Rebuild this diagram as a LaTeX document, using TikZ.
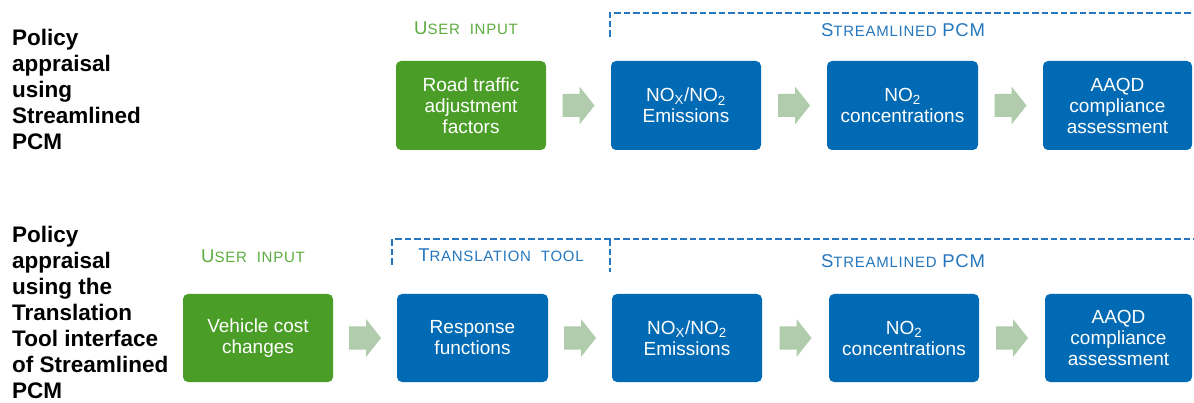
\documentclass[tikz,border=0pt]{standalone}
\usepackage{fontspec}
\setmainfont{Liberation Sans}
\usetikzlibrary{calc}
\definecolor{boxgreen}{RGB}{74,157,39}
\definecolor{boxblue}{RGB}{0,106,180}
\definecolor{arrowgreen}{RGB}{176,204,172}
\definecolor{labgreen}{RGB}{92,172,62}
\definecolor{labblue}{RGB}{36,118,190}
\newcommand{\sccap}[1]{{\fontsize{18.5}{21}\selectfont\addfontfeatures{LetterSpace=4}#1}}
\newcommand{\scsm}[1]{{\fontsize{15}{21}\selectfont\addfontfeatures{LetterSpace=5}#1}}
\newcommand{\blockarr}[3]{%
  \coordinate (#3) at ($(#1.east)!0.5!(#2.west)$);
  \fill[arrowgreen] (#3) ++(-16,-11.5) -- ++(17,0) -- ++(0,-7.5) -- ++(15,19)
    -- ++(-15,19) -- ++(0,-7.5) -- ++(-17,0) -- cycle;}
\tikzset{
  stepbox/.style={rounded corners=5pt, inner sep=0pt, text=white, align=center,
    font=\fontsize{19}{21}\selectfont},
  greenbox/.style={stepbox, fill=boxgreen},
  bluebox/.style={stepbox, fill=boxblue},
  titletext/.style={anchor=north west, inner sep=0pt, align=left,
    font=\fontsize{22.5}{26}\selectfont\bfseries},
  greenlab/.style={inner sep=0pt, anchor=base, text=labgreen},
  bluelab/.style={inner sep=0pt, anchor=base, text=labblue},
  bracket/.style={draw=labblue, line width=2pt, dash pattern=on 6.5pt off 3pt}
}
\begin{document}
\begin{tikzpicture}[x=1pt,y=-1pt]
\useasboundingbox (0,0) rectangle (1194,403);
% titles
\node[titletext] (t1) at (12,29) {Policy\\appraisal\\using\\Streamlined\\PCM};
\node[titletext] (t2) at (12,226) {Policy\\appraisal\\using the\\Translation\\Tool interface\\of Streamlined\\PCM};
% top row
\node[greenbox, minimum width=150pt, minimum height=89pt] (a1) at (471,105.5) {Road traffic\\adjustment\\factors};
\node[bluebox, minimum width=150pt, minimum height=89pt] (a2) at (686,105.5) {NO\textsubscript{X}/NO\textsubscript{2}\\Emissions};
\node[bluebox, minimum width=151pt, minimum height=89pt] (a3) at (902.5,105.5) {NO\textsubscript{2}\\concentrations};
\node[bluebox, minimum width=149pt, minimum height=89pt] (a4) at (1117.5,105.5) {AAQD\\compliance\\assessment};
\blockarr{a1}{a2}{ar1}
\blockarr{a2}{a3}{ar2}
\blockarr{a3}{a4}{ar3}
% bottom row
\node[greenbox, minimum width=150pt, minimum height=88pt] (b1) at (258,338) {Vehicle cost\\changes};
\node[bluebox, minimum width=151pt, minimum height=88pt] (b2) at (472.5,338) {Response\\functions};
\node[bluebox, minimum width=150pt, minimum height=88pt] (b3) at (687,338) {NO\textsubscript{X}/NO\textsubscript{2}\\Emissions};
\node[bluebox, minimum width=150pt, minimum height=88pt] (b4) at (904,338) {NO\textsubscript{2}\\concentrations};
\node[bluebox, minimum width=147pt, minimum height=88pt] (b5) at (1118.5,338) {AAQD\\compliance\\assessment};
\blockarr{b1}{b2}{br1}
\blockarr{b2}{b3}{br2}
\blockarr{b3}{b4}{br3}
\blockarr{b4}{b5}{br4}
% labels
\node[greenlab] (l1) at (466,35) {\sccap{U}\scsm{SER\ \ INPUT}};
\node[bluelab] (l2) at (903,37) {\sccap{S}\scsm{TREAMLINED}\ \ \sccap{PCM}};
\node[greenlab] (l3) at (253,263) {\sccap{U}\scsm{SER\ \ INPUT}};
\node[bluelab] (l4) at (501,262) {\sccap{T}\scsm{RANSLATION\ \ TOOL}};
\node[bluelab] (l5) at (903,268) {\sccap{S}\scsm{TREAMLINED}\ \ \sccap{PCM}};
% brackets
\coordinate (c1) at (610,37);
\coordinate (c2) at (610,12.7);
\coordinate (c3) at (1194,12.7);
\draw[bracket] (c1) -- (c2) -- (c3);
\coordinate (d1) at (392,265);
\coordinate (d2) at (392,239.5);
\coordinate (d3) at (1194,239.5);
\coordinate (d4) at (610,239.5);
\coordinate (d5) at (610,272);
\draw[bracket] (d1) -- (d2) -- (d3);
\draw[bracket] (d4) -- (d5);
\end{tikzpicture}
\end{document}
